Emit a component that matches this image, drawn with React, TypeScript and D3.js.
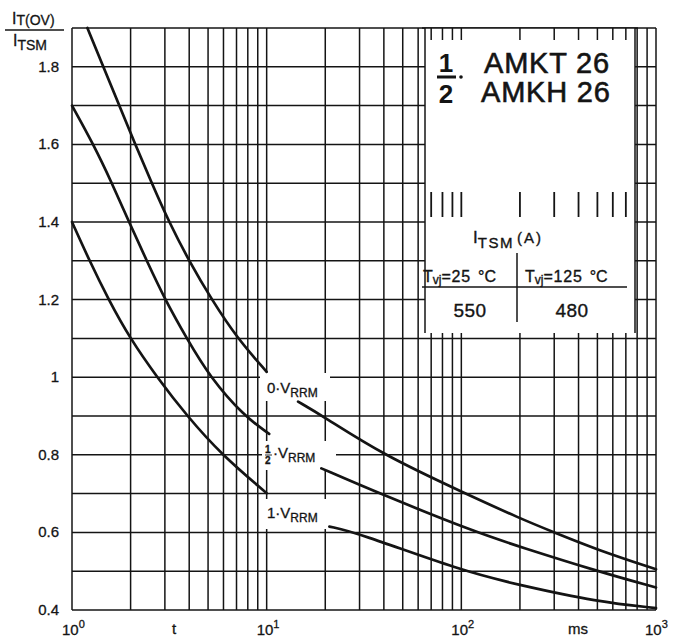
import React from "react";
import * as d3 from "d3";

// ---- data (t in ms, ratio I_T(OV)/I_TSM) ----
const top1: [number, number][] = [[1.2, 1.9], [1.448, 1.8], [1.75, 1.7], [2.114, 1.6], [2.57, 1.5], [3.15, 1.4], [3.99, 1.3], [5.22, 1.2], [7.07, 1.1], [10, 1.014]];
const top2: [number, number][] = [[14.5, 0.937], [19.4, 0.9], [39.5, 0.8], [105, 0.7], [200, 0.636], [300, 0.6], [500, 0.555], [1000, 0.505]];
const mid1: [number, number][] = [[1, 1.7], [1.289, 1.6], [1.605, 1.5], [1.963, 1.4], [2.42, 1.3], [3.005, 1.2], [3.884, 1.1], [5.116, 1.0], [7.65, 0.9], [10.3, 0.854]];
const mid2: [number, number][] = [[19.1, 0.765], [38, 0.7], [119, 0.6], [200, 0.563], [500, 0.5], [1000, 0.458]];
const bot1: [number, number][] = [[1, 1.4], [1.23, 1.3], [1.54, 1.2], [1.986, 1.1], [2.733, 1.0], [3.897, 0.9], [5.875, 0.8], [10, 0.701]];
const bot2: [number, number][] = [[21, 0.615], [28.8, 0.6], [101.6, 0.5], [200, 0.464], [500, 0.421], [1000, 0.405]];

const yTicks = [0.4, 0.6, 0.8, 1, 1.2, 1.4, 1.6, 1.8];
const yGrid = [0.4, 0.5, 0.6, 0.7, 0.8, 0.9, 1.0, 1.1, 1.2, 1.3, 1.4, 1.5, 1.6, 1.7, 1.8, 1.9];
const xDecades = [1, 10, 100, 1000];
const xExp = ["0", "1", "2", "3"];
const stubTimes = [70, 80, 90, 100, 200, 300, 400, 500, 600, 700];
const model1 = "AMKT 26";
const model2 = "AMKH 26";
const itsm25 = "550";
const itsm125 = "480";

const INK = "#141414";
const FONT = "'Liberation Sans', Arial, sans-serif";

export default function App() {
  const x = d3.scaleLog().domain([1, 1000]).range([72, 656]);
  const y = d3.scaleLinear().domain([0.4, 1.9]).range([610, 28]);
  const xGrid: number[] = [];
  for (let d = 1; d < 1000; d *= 10) for (let k = 1; k < 10; k++) xGrid.push(d * k);
  xGrid.push(1000);

  const line = d3
    .line<[number, number]>()
    .x((d) => x(d[0]))
    .y((d) => y(d[1]))
    .curve(d3.curveBasis);

  const boxL = 425, boxR = 635, boxT = y(1.9), boxB = 333;

  return (
    <svg width={678} height={644} style={{ position: "absolute", left: 0, top: 0, background: "#fff" }} fontFamily={FONT}>
      <rect width={678} height={644} fill="#fff" />
      {/* grid */}
      <g stroke={INK} strokeWidth={1.5}>
        {xGrid.map((t) => (
          <line key={"vx" + t} x1={x(t)} x2={x(t)} y1={y(1.9)} y2={y(0.4)} />
        ))}
        {yGrid.map((v) => (
          <line key={"hy" + v} x1={x(1)} x2={x(1000)} y1={y(v)} y2={y(v)} />
        ))}
      </g>
      {/* white panel */}
      <rect x={boxL} y={boxT} width={boxR - boxL} height={boxB - boxT} fill="#fff" />
      <g stroke={INK} strokeWidth={1.5}>
        <line x1={boxL} x2={boxL} y1={boxT} y2={boxB} />
        <line x1={boxR} x2={boxR} y1={boxT} y2={boxB} />
        <line x1={boxL - 3} x2={boxR + 3} y1={boxT} y2={boxT} />
        {stubTimes.map((t) => (
          <line key={"st" + t} x1={x(t)} x2={x(t)} y1={boxT} y2={boxT + 12} />
        ))}
        {stubTimes.map((t) => (
          <line key={"sm" + t} x1={x(t)} x2={x(t)} y1={192} y2={217} strokeWidth={1.8} />
        ))}
      </g>
      {/* curve label backgrounds */}
      <rect x={260} y={373} width={70} height={28} fill="#fff" />
      <rect x={262} y={441} width={74} height={29} fill="#fff" />
      <rect x={262} y={499} width={74} height={30} fill="#fff" />
      {/* curves */}
      <g fill="none" stroke={INK} strokeWidth={2.7} strokeLinecap="round">
        {[top1, top2, mid1, mid2, bot1, bot2].map((s, i) => (
          <path key={"c" + i} d={line(s) || ""} />
        ))}
      </g>
      {/* curve labels */}
      <g fill={INK} stroke={INK} strokeWidth={0.3}>
        <text x={267} y={393} fontSize={15}>
          0·V<tspan fontSize={12} dy={4}>RRM</tspan>
        </text>
        <text x={265} y={453} fontSize={10} fontWeight="bold">1</text>
        <line x1={265} x2={272} y1={455} y2={455} strokeWidth={0.9} />
        <text x={265} y={464} fontSize={10} fontWeight="bold">2</text>
        <text x={273} y={458} fontSize={15}>
          ·V<tspan fontSize={12} dy={4}>RRM</tspan>
        </text>
        <text x={267} y={518} fontSize={15}>
          1·V<tspan fontSize={12} dy={4}>RRM</tspan>
        </text>
      </g>
      {/* title */}
      <g fill={INK}>
        <text x={446} y={72} fontSize={26} fontWeight="bold" textAnchor="middle">1</text>
        <line x1={437} x2={456} y1={77} y2={77} stroke={INK} strokeWidth={3} />
        <circle cx={461} cy={77} r={1.8} />
        <text x={446} y={103} fontSize={26} fontWeight="bold" textAnchor="middle">2</text>
        <text x={484} y={73} fontSize={29} stroke={INK} strokeWidth={0.6} letterSpacing={0.8}>{model1}</text>
        <text x={481} y={102} fontSize={29} stroke={INK} strokeWidth={0.6} letterSpacing={0.8}>{model2}</text>
      </g>
      {/* table */}
      <g fill={INK} stroke={INK} strokeWidth={0.35}>
        <text x={473} y={243} fontSize={17}>
          I<tspan fontSize={15} dy={5} letterSpacing={1.5}>TSM</tspan>
          <tspan fontSize={15} dy={-5} dx={3} letterSpacing={2}>(A)</tspan>
        </text>
        <line x1={422} x2={627} y1={287} y2={287} strokeWidth={1.5} />
        <line x1={517} x2={517} y1={253} y2={322} strokeWidth={1.5} />
        <text x={423} y={282} fontSize={16}>
          T<tspan fontSize={12} dy={2}>vj</tspan>
          <tspan dy={-2} letterSpacing={0.8}>=25</tspan>
          <tspan dx={7}>°C</tspan>
        </text>
        <text x={525} y={282} fontSize={16}>
          T<tspan fontSize={12} dy={2}>vj</tspan>
          <tspan dy={-2} letterSpacing={0.8}>=125</tspan>
          <tspan dx={7}>°C</tspan>
        </text>
        <text x={470} y={317} fontSize={19} textAnchor="middle" letterSpacing={0.5}>{itsm25}</text>
        <text x={572} y={317} fontSize={19} textAnchor="middle" letterSpacing={0.5}>{itsm125}</text>
      </g>
      {/* y axis labels */}
      <g fill={INK} fontSize={15} stroke={INK} strokeWidth={0.3}>
        {yTicks.map((v) => (
          <text key={"yl" + v} x={59} y={y(v) + 5} textAnchor="end">
            {String(v)}
          </text>
        ))}
        <text x={12} y={24} fontSize={16}>
          I<tspan fontSize={14} dy={1}>T(OV)</tspan>
        </text>
        <line x1={5} x2={64} y1={30} y2={30} strokeWidth={1.5} />
        <text x={13} y={46} fontSize={16}>
          I<tspan fontSize={14} dy={4}>TSM</tspan>
        </text>
      </g>
      {/* x axis labels */}
      <g fill={INK} fontSize={15} stroke={INK} strokeWidth={0.3}>
        {xDecades.map((t, i) => (
          <text key={"xl" + t} x={x(t) - 10 + (i === 3 ? -1 : 0)} y={635}>
            10<tspan fontSize={11} dy={-7}>{xExp[i]}</tspan>
          </text>
        ))}
        <text x={172} y={634}>t</text>
        <text x={568} y={634}>ms</text>
      </g>
    </svg>
  );
}
